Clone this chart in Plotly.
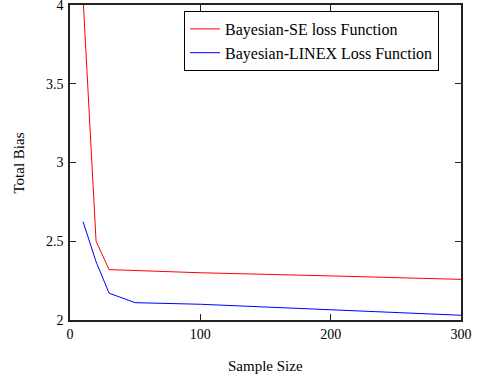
import plotly.graph_objects as go

sample_size = [10, 20, 30, 50, 100, 200, 300]
bias_se = [4.05, 2.50, 2.32, 2.315, 2.30, 2.28, 2.258]
bias_linex = [2.625, 2.37, 2.17, 2.11, 2.10, 2.063, 2.03]

FONT = "Liberation Serif, Times New Roman, serif"

fig = go.Figure()
fig.add_trace(go.Scatter(x=sample_size, y=bias_se, mode="lines",
                         line=dict(color="#ff0000", width=1),
                         name="Bayesian-SE loss Function"))
fig.add_trace(go.Scatter(x=sample_size, y=bias_linex, mode="lines",
                         line=dict(color="#0000ff", width=1),
                         name="Bayesian-LINEX Loss Function"))

axis_common = dict(showgrid=False, zeroline=False, showline=True, mirror="ticks",
                   linecolor="#222222", linewidth=1.5, ticks="inside", ticklen=6,
                   tickcolor="#222222", automargin=False, ticklabeloverflow="allow",
                   tickfont=dict(family=FONT, size=14, color="#000"))

fig.update_layout(
    width=480, height=381,
    margin=dict(l=70, r=19, t=5, b=61, autoexpand=False),
    paper_bgcolor="white", plot_bgcolor="white",
    font=dict(family=FONT, size=14, color="#000"),
    xaxis=dict(range=[0, 300], tickvals=[0, 100, 200, 300], **axis_common),
    yaxis=dict(range=[2, 4], tickvals=[2, 2.5, 3, 3.5, 4], ticklabelstandoff=2,
               **axis_common),
    legend=dict(x=(184 - 70) / 391, y=1 - (11 - 5) / 315, xanchor="left", yanchor="top",
                bgcolor="white", bordercolor="#000", borderwidth=1,
                font=dict(family=FONT, size=16), tracegroupgap=0,
                itemwidth=30),
    showlegend=True,
    annotations=[
        dict(text="Sample Size", x=0.5, y=-(366 - 320) / 315, xref="paper", yref="paper",
             yanchor="middle", showarrow=False, font=dict(family=FONT, size=15)),
        dict(text="Total Bias", x=-(70 - 18) / 391, y=0.5, xref="paper", yref="paper",
             xanchor="center", showarrow=False, textangle=-90,
             font=dict(family=FONT, size=15)),
    ],
)

fig.write_html("out.html", config={"displayModeBar": False},
               post_script="document.body.style.margin='0';document.body.style.overflow='hidden';")
